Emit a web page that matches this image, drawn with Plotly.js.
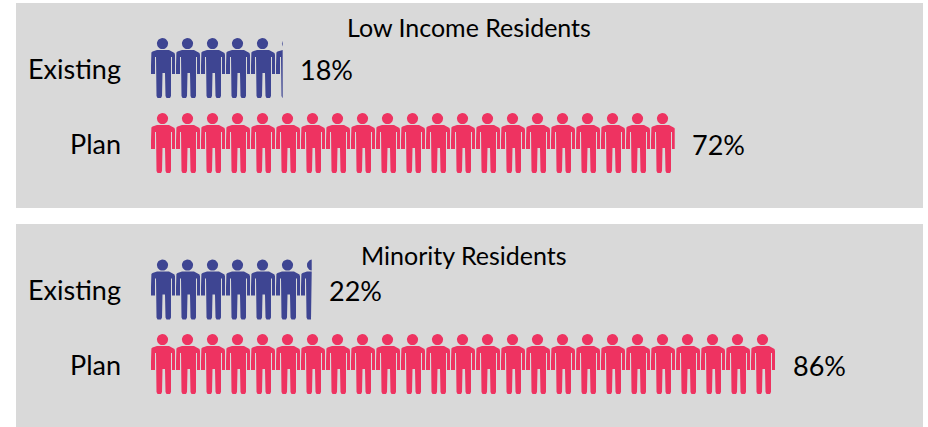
<!DOCTYPE html>
<html>
<head>
<meta charset="utf-8">
<script src="https://cdn.plot.ly/plotly-3.0.1.min.js"></script>
<style>html,body{margin:0;padding:0;background:#fff}#chart{width:928px;height:427px}</style>
</head>
<body>
<div id="chart"></div>
<script>
// Share of residents served, by group
const panelTitles = ["Low Income Residents", "Minority Residents"];
const rowNames = ["Existing", "Plan"];
const lowIncomeValues = [18, 72];
const minorityValues = [22, 86];

const BLUE = "#3e4592";
const PINK = "#ee3361";
const PANEL = "#d9d9d9";
const FONT = "Lato, 'Open Sans', sans-serif";

// Pixel layout of the page; the axes run 1:1 in y and 7.26 px per percent in x
const W = 928, H = 427, ORIGIN = 152, PX_PER_PCT = 7.26, PITCH = 25;
const rowTops = [[38, 113], [259.5, 334]];
const panels = [[16, 923, 3, 208], [16, 923, 224, 427]];
const titleCentres = [[469, 27], [464, 255]];

// One person icon, px relative to top-left of its cell: body outline and head
const bodyOutline = [
  [-1,28],[-1,16],[-0.6,14.5],[0.5,13.5],[5,12],[17,12],[20.5,13.5],[22.5,15],[23,17],[23,36],
  [20,36],[20,19],[19,19],[19,58],[18,60],[14.5,60],[13.5,58],[13,35],[10.5,35],[10,58],[9,60],
  [5.5,60],[4.5,58],[4,19],[3,19],[3,36],[-1,36]
];
const head = {cx: 10.5, cy: 5.6, r: 5.6};

function headOutline() {
  const pts = [];
  for (let i = 0; i < 28; i++) {
    const t = i / 28 * 2 * Math.PI;
    pts.push([head.cx + head.r * Math.cos(t), head.cy + head.r * Math.sin(t)]);
  }
  return pts;
}

// Cut a polygon at a vertical line, keeping the part to its left
function clipRight(poly, limit) {
  const out = [];
  for (let i = 0; i < poly.length; i++) {
    const a = poly[i], b = poly[(i + 1) % poly.length];
    const aIn = a[0] <= limit, bIn = b[0] <= limit;
    if (aIn) out.push(a);
    if (aIn !== bIn) {
      const f = (limit - a[0]) / (b[0] - a[0]);
      out.push([limit, a[1] + f * (b[1] - a[1])]);
    }
  }
  return out;
}

// Fill-to-self trace of repeated icons, cut off where the value ends on the x axis
function iconRow(value, top, color) {
  const xs = [], ys = [];
  const endPx = value * PX_PER_PCT;
  for (let n = 0; n * PITCH < endPx; n++) {
    for (const shape of [bodyOutline, headOutline()]) {
      const placed = shape.map(p => [p[0] + n * PITCH, p[1]]);
      const cut = clipRight(placed, endPx);
      if (!cut.length) continue;
      cut.forEach(p => { xs.push(p[0] / PX_PER_PCT); ys.push(p[1] + top); });
      xs.push(cut[0][0] / PX_PER_PCT); ys.push(cut[0][1] + top);
      xs.push(null); ys.push(null);
    }
  }
  return {
    type: "scatter", mode: "lines", x: xs, y: ys, fill: "toself",
    fillcolor: color, line: {width: 0, color: color},
    hoverinfo: "skip", showlegend: false
  };
}

const groups = [lowIncomeValues, minorityValues];
const traces = [];
const annotations = [];
const toPct = px => (px - ORIGIN) / PX_PER_PCT;

groups.forEach((values, g) => {
  annotations.push({
    x: toPct(titleCentres[g][0]), y: titleCentres[g][1], xref: "x", yref: "y",
    text: panelTitles[g], showarrow: false, xanchor: "center", yanchor: "middle",
    font: {family: FONT, size: 25, color: "#000"}
  });
  values.forEach((v, r) => {
    const top = rowTops[g][r];
    traces.push(iconRow(v, top, r === 0 ? BLUE : PINK));
    annotations.push({
      x: toPct(123), y: top + 30, xref: "x", yref: "y", text: rowNames[r],
      showarrow: false, xanchor: "right", yanchor: "middle",
      font: {family: FONT, size: 27, color: "#000"}
    });
    annotations.push({
      x: v, y: top + 31, xref: "x", yref: "y", text: v + "%", xshift: 15,
      showarrow: false, xanchor: "left", yanchor: "middle",
      font: {family: FONT, size: 27, color: "#000"}
    });
  });
});

const layout = {
  width: W, height: H,
  margin: {l: 0, r: 0, t: 0, b: 0},
  paper_bgcolor: "#fff", plot_bgcolor: "#fff",
  showlegend: false,
  xaxis: {range: [toPct(0), toPct(W)], visible: false, fixedrange: true},
  yaxis: {range: [H, 0], visible: false, fixedrange: true},
  shapes: panels.map(p => ({
    type: "rect", xref: "x", yref: "y", layer: "below",
    x0: toPct(p[0]), x1: toPct(p[1]), y0: p[2], y1: p[3],
    fillcolor: PANEL, line: {width: 0}
  })),
  annotations
};

Plotly.newPlot("chart", traces, layout, {displayModeBar: false, staticPlot: true});
</script>
</body>
</html>
